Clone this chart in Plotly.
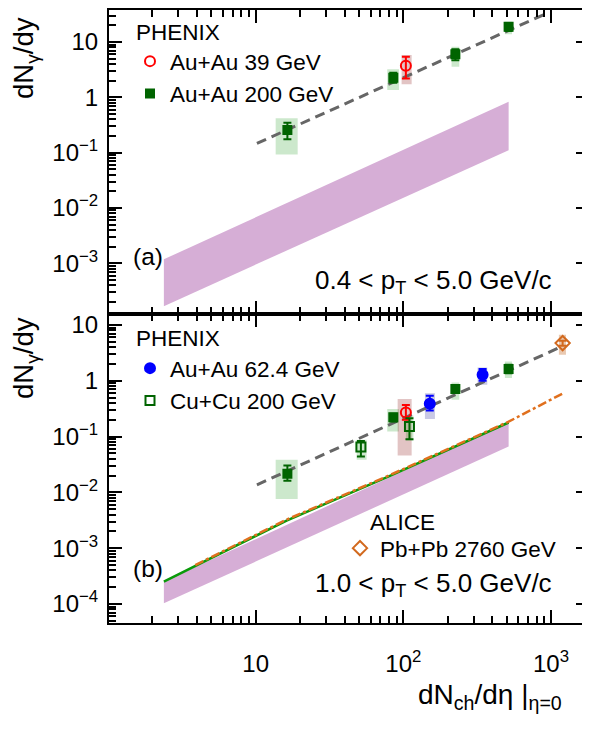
import plotly.graph_objects as go

FONT = "Liberation Sans, Arial, Helvetica, sans-serif"

# ---------------- data: panel (a) 0.4 < pT < 5.0 ----------------
auau200_a_x = [16.4, 85.5, 225, 516]
auau200_a_y = [0.256, 2.26, 6.0, 18.9]
auau200_a_ep = [0.091, 0.52, 1.4, 3.0]
auau200_a_em = [0.082, 0.42, 1.3, 3.1]
auau200_a_sys_ylo = [0.093, 1.36, 3.57, 13.8]
auau200_a_sys_yhi = [0.417, 3.21, 8.2, 23.3]

auau200_sys_xlo = [13.66, 77.8, 212, 487]
auau200_sys_xhi = [19.25, 93.4, 239, 544]

auau39_a_x = [104]
auau39_a_y = [3.73]
auau39_a_ep = [1.69]
auau39_a_em = [1.53]
auau39_a_sys_ylo = [1.72]
auau39_a_sys_yhi = [5.82]
auau39_sys_xlo = [97.3]
auau39_sys_xhi = [113.8]
auau39_b_sys_xlo = [91.5]
auau39_b_sys_xhi = [113.8]

fit_a_x = [10.2, 934]
fit_a_y = [0.147, 33]

band_a_x = [2.39, 516, 516, 2.39, 2.39]
band_a_y = [1.18e-3, 0.83, 0.111, 1.68e-4, 1.18e-3]

# ---------------- data: panel (b) 1.0 < pT < 5.0 ----------------
auau200_b_y = [0.0216, 0.223, 0.71, 1.62]
auau200_b_ep = [0.0087, 0.033, 0.09, 0.31]
auau200_b_em = [0.0055, 0.036, 0.08, 0.25]
auau200_b_sys_ylo = [0.0076, 0.123, 0.457, 1.12]
auau200_b_sys_yhi = [0.0384, 0.311, 0.93, 2.22]

auau39_b_y = [0.27]
auau39_b_ep = [0.10]
auau39_b_em = [0.07]
auau39_b_sys_ylo = [0.046]
auau39_b_sys_yhi = [0.47]

cucu200_x = [51.6, 110]
cucu200_y = [0.0648, 0.152]
cucu200_ep = [0.019, 0.062]
cucu200_em = [0.021, 0.062]
cucu200_sys_xlo = [48.3, 104]
cucu200_sys_xhi = [56.4, 117]
cucu200_sys_ylo = [0.0384, 0.085]
cucu200_sys_yhi = [0.088, 0.24]

auau62_x = [151, 344]
auau62_y = [0.387, 1.28]
auau62_ep = [0.151, 0.34]
auau62_em = [0.093, 0.28]
auau62_sys_xlo = [140, 318]
auau62_sys_xhi = [163.7, 370]
auau62_sys_ylo = [0.206, 0.85]
auau62_sys_yhi = [0.60, 1.73]

pbpb_x = [1198]
pbpb_y = [4.74]
pbpb_ep = [0.5]
pbpb_em = [0.5]
pbpb_sys_xlo = [1130]
pbpb_sys_xhi = [1262]
pbpb_sys_ylo = [2.92]
pbpb_sys_yhi = [6.67]

fit_b_x = [10.2, 1180]
fit_b_y = [0.0137, 4.12]

band_b_x = [2.39, 516, 516, 2.39, 2.39]
band_b_y = [2.53e-4, 0.179, 0.0665, 1.03e-4, 2.53e-4]

green_line_x = [2.39, 16.2, 81.2, 516]
green_line_y = [2.53e-4, 3.13e-3, 0.0198, 0.179]

orange_line_x = [3.9, 16.2, 81.2, 516, 1210]
orange_line_y = [5.0e-4, 3.25e-3, 0.0205, 0.185, 0.60]

ytick_vals = [1e-4, 1e-3, 1e-2, 1e-1, 1, 10]
ytick_text = ["10<sup>\u22124</sup>", "10<sup>\u22123</sup>", "10<sup>\u22122</sup>",
              "10<sup>\u22121</sup>", "1", "10"]
xtick_vals = [10, 100, 1000]
xtick_text = ["10", "10<sup>2</sup>", "10<sup>3</sup>"]

# ---------------- figure ----------------
fig = go.Figure()

C_GREEN = "#006400"
C_RED = "#ff0000"
C_BLUE = "#0000ff"
C_ORANGE = "#d2691e"


def band(x, y, xa, ya):
    fig.add_trace(go.Scatter(x=x, y=y, mode="lines", fill="toself",
                             fillcolor="#d6aed6", line=dict(width=0),
                             hoverinfo="skip", showlegend=False,
                             xaxis=xa, yaxis=ya))


def boxes(xlo, xhi, ylo, yhi, color, xa, ya):
    for a, b, c, d in zip(xlo, xhi, ylo, yhi):
        fig.add_trace(go.Scatter(x=[a, b, b, a, a], y=[c, c, d, d, c],
                                 mode="lines", fill="toself", fillcolor=color,
                                 line=dict(width=0), hoverinfo="skip",
                                 showlegend=False, xaxis=xa, yaxis=ya))


def points(x, y, ep, em, color, symbol, size, name, xa, ya, legend=None,
           lw=2, showlegend=True):
    fig.add_trace(go.Scatter(
        x=x, y=y, mode="markers", name=name,
        marker=dict(color=color, symbol=symbol, size=size,
                    line=dict(color=color, width=lw)),
        error_y=dict(type="data", symmetric=False, array=ep, arrayminus=em,
                     color=color, thickness=2, width=4),
        xaxis=xa, yaxis=ya, legend=legend, showlegend=showlegend))


SYS_G = "rgba(0,140,0,0.2)"
SYS_R = "rgba(160,60,60,0.3)"
SYS_B = "rgba(60,60,160,0.28)"
SYS_O = "rgba(200,120,60,0.4)"

# panel (a)
band(band_a_x, band_a_y, "x", "y")
boxes(auau200_sys_xlo, auau200_sys_xhi, auau200_a_sys_ylo, auau200_a_sys_yhi, SYS_G, "x", "y")
boxes(auau39_sys_xlo, auau39_sys_xhi, auau39_a_sys_ylo, auau39_a_sys_yhi, SYS_R, "x", "y")
fig.add_trace(go.Scatter(x=fit_a_x, y=fit_a_y, mode="lines",
                         line=dict(color="#666666", width=3, dash="10px,6px"),
                         showlegend=False, xaxis="x", yaxis="y"))
points(auau39_a_x, auau39_a_y, auau39_a_ep, auau39_a_em, C_RED, "circle-open", 10,
       "Au+Au 39 GeV", "x", "y", "legend")
points(auau200_a_x, auau200_a_y, auau200_a_ep, auau200_a_em, C_GREEN, "square", 8,
       "Au+Au 200 GeV", "x", "y", "legend")

# panel (b)
band(band_b_x, band_b_y, "x2", "y2")
boxes(auau200_sys_xlo, auau200_sys_xhi, auau200_b_sys_ylo, auau200_b_sys_yhi, SYS_G, "x2", "y2")
boxes(auau39_b_sys_xlo, auau39_b_sys_xhi, auau39_b_sys_ylo, auau39_b_sys_yhi, SYS_R, "x2", "y2")
boxes(cucu200_sys_xlo, cucu200_sys_xhi, cucu200_sys_ylo, cucu200_sys_yhi, SYS_G, "x2", "y2")
boxes(auau62_sys_xlo, auau62_sys_xhi, auau62_sys_ylo, auau62_sys_yhi, SYS_B, "x2", "y2")
boxes(pbpb_sys_xlo, pbpb_sys_xhi, pbpb_sys_ylo, pbpb_sys_yhi, SYS_O, "x2", "y2")
fig.add_trace(go.Scatter(x=green_line_x, y=green_line_y, mode="lines",
                         line=dict(color="#0a9a0a", width=2.5),
                         showlegend=False, xaxis="x2", yaxis="y2"))
fig.add_trace(go.Scatter(x=orange_line_x, y=orange_line_y, mode="lines",
                         line=dict(color="#e0701e", width=2.5, dash="dashdot"),
                         showlegend=False, xaxis="x2", yaxis="y2"))
fig.add_trace(go.Scatter(x=fit_b_x, y=fit_b_y, mode="lines",
                         line=dict(color="#666666", width=3, dash="10px,6px"),
                         showlegend=False, xaxis="x2", yaxis="y2"))
points(auau200_a_x, auau200_b_y, auau200_b_ep, auau200_b_em, C_GREEN, "square", 8,
       "Au+Au 200 GeV", "x2", "y2", showlegend=False)
points(auau39_a_x, auau39_b_y, auau39_b_ep, auau39_b_em, C_RED, "circle-open", 10,
       "Au+Au 39 GeV", "x2", "y2", showlegend=False)
points(auau62_x, auau62_y, auau62_ep, auau62_em, C_BLUE, "circle", 10,
       "Au+Au 62.4 GeV", "x2", "y2", "legend2")
points(cucu200_x, cucu200_y, cucu200_ep, cucu200_em, C_GREEN, "square-open", 9,
       "Cu+Cu 200 GeV", "x2", "y2", "legend2")
points(pbpb_x, pbpb_y, pbpb_ep, pbpb_em, C_ORANGE, "diamond-open", 11,
       "Pb+Pb 2760 GeV", "x2", "y2", "legend3")

# ---------------- layout ----------------
# page body has an 8px default margin: target screenshot pixels are shifted by OFF
OFF = 8
FIG_W, FIG_H = 590 - OFF, 733 - OFF
LEFT_PX, PLOT_W = 109, 480
TOP_PX, BOT_PX, MID_PX = 10, 623, 313.5
H = BOT_PX - TOP_PX
split = (BOT_PX - MID_PX) / H

axis_common = dict(
    type="log", showline=True, linecolor="black", linewidth=2,
    mirror="allticks", ticks="inside", ticklen=13, tickwidth=2,
    tickcolor="black", showgrid=False, zeroline=False, automargin=False,
    minor=dict(ticks="inside", ticklen=7, tickwidth=1.5, tickcolor="black",
               showgrid=False, dtick="D1"),
    tickfont=dict(family=FONT, size=24, color="black"),
)


def px_x(p):
    return (p - LEFT_PX) / PLOT_W


def px_y(p):
    return (BOT_PX - p) / H


fig.update_layout(
    width=FIG_W, height=FIG_H,
    margin=dict(l=LEFT_PX - OFF, r=FIG_W - (LEFT_PX - OFF) - PLOT_W,
                t=TOP_PX - OFF, b=FIG_H - (BOT_PX - OFF), autoexpand=False),
    paper_bgcolor="white", plot_bgcolor="white",
    font=dict(family=FONT, color="black"),
    xaxis=dict(axis_common, domain=[0, 1], anchor="y", range=[0.007, 3.257],
               showticklabels=False, tickvals=xtick_vals, matches="x2"),
    xaxis2=dict(axis_common, domain=[0, 1], anchor="y2", range=[0.007, 3.257],
                tickvals=xtick_vals, ticktext=xtick_text, ticklabelstandoff=18),
    yaxis=dict(axis_common, domain=[split, 1], anchor="x", range=[-3.908, 1.579],
               tickvals=ytick_vals, ticktext=ytick_text, ticklabelstandoff=4),
    yaxis2=dict(axis_common, domain=[0, split], anchor="x2", range=[-4.34, 1.206],
                tickvals=ytick_vals, ticktext=ytick_text, ticklabelstandoff=4),
    legend=dict(x=px_x(130), y=px_y(40), xanchor="left", yanchor="top",
                bgcolor="rgba(0,0,0,0)", font=dict(family=FONT, size=22.5),
                tracegroupgap=0),
    legend2=dict(x=px_x(130), y=px_y(347), xanchor="left", yanchor="top",
                 bgcolor="rgba(0,0,0,0)", font=dict(family=FONT, size=22.5),
                 tracegroupgap=0),
    legend3=dict(x=px_x(340), y=px_y(527), xanchor="left", yanchor="top",
                 bgcolor="rgba(0,0,0,0)", font=dict(family=FONT, size=22.5),
                 tracegroupgap=0),
    showlegend=True,
)


def note(text, x, y, size, xanchor="left", yanchor="middle", angle=0):
    fig.add_annotation(text=text, x=px_x(x), y=px_y(y), xref="paper", yref="paper",
                       xanchor=xanchor, yanchor=yanchor, showarrow=False,
                       textangle=angle, font=dict(family=FONT, size=size, color="black"))


note("PHENIX", 134, 32, 22.5)
note("PHENIX", 134, 338, 22.5)
note("ALICE", 368, 522, 22.5)
note("(a)", 131, 256, 24.5)
note("(b)", 131, 568, 24.5)
note("0.4 &lt; p<sub>T</sub> &lt; 5.0 GeV/c", 313, 281, 26)
note("1.0 &lt; p<sub>T</sub> &lt; 5.0 GeV/c", 313, 584, 26)
note("dN<sub>ch</sub>/d\u03b7 |<sub>\u03b7=0</sub>", 564, 696, 28, xanchor="right")
note("dN<sub>\u03b3</sub>/dy", 25, 58, 27.5, xanchor="center", angle=-90)
note("dN<sub>\u03b3</sub>/dy", 25, 358, 27.5, xanchor="center", angle=-90)

fig.write_html("out.html")
